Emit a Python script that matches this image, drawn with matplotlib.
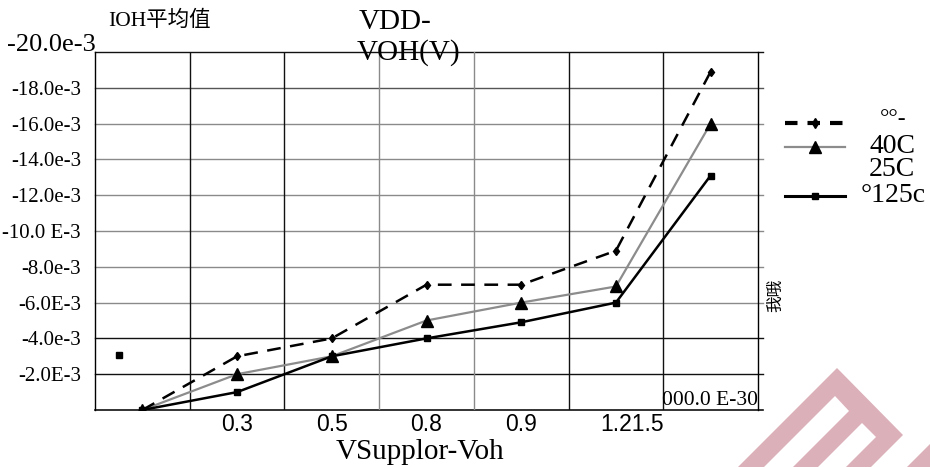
import matplotlib
matplotlib.use("Agg")
import matplotlib.pyplot as plt
from matplotlib.lines import Line2D
from matplotlib.patches import Polygon

plt.rcParams['font.family'] = ['Liberation Serif', 'Noto Sans CJK SC', 'DejaVu Sans']

# data (IOH in A)
categories = ["", "0.3", "0.5", "0.8", "0.9", "1.2", "1.5"]
ioh_neg40 = [0.0, -3.0e-3, -4.0e-3, -7.0e-3, -7.0e-3, -8.9e-3, -18.9e-3]
ioh_25 = [0.0, -2.0e-3, -3.0e-3, -5.0e-3, -6.0e-3, -6.9e-3, -16.0e-3]
ioh_125 = [0.0, -1.0e-3, -3.0e-3, -4.0e-3, -4.9e-3, -6.0e-3, -13.1e-3]
stray_x = [-0.25]
stray_y = [-3.1e-3]

ytick_vals = [-2e-3, -4e-3, -6e-3, -8e-3, -10e-3, -12e-3, -14e-3, -16e-3, -18e-3]
ytick_text = ["-2.0E-3", "-4.0e-3", "-6.0E-3", "-8.0e-3", "-10.0 E-3",
              "-12.0e-3", "-14.0e-3", "-16.0e-3", "-18.0e-3"]
xtick_text = ["0.3", "0.5", "0.8", "0.9", "1.21.5"]
hgrid_colors = ["#111111", "#111111", "#8a8a8a", "#8a8a8a", "#8a8a8a",
                "#8a8a8a", "#8a8a8a", "#8a8a8a", "#555555"]
vgrid_colors = ["#111111", "#111111", "#8a8a8a", "#8a8a8a", "#111111", "#111111"]

W, H = 930, 467


def fx(x):
    return x / W


def fy(y):
    return 1 - y / H


fig = plt.figure(figsize=(9.3, 4.67), dpi=100)
ax = fig.add_axes([fx(95), fy(410), (758 - 95) / W, (410 - 52) / H])

xs = list(range(len(categories)))
ax.set_xlim(-0.5, 6.5)
ax.set_ylim(0, -20e-3)

# grid
for v, c in zip(ytick_vals, hgrid_colors):
    ax.axhline(v, xmin=0, xmax=1.008, color=c, lw=1.0, clip_on=False, zorder=1)
ax.axhline(-20e-3, xmin=0, xmax=1.008, color="#111111", lw=1.0, clip_on=False, zorder=1)
ax.axhline(0, xmin=0, xmax=1.008, color="#111111", lw=1.2, clip_on=False, zorder=1)
for i, c in enumerate(vgrid_colors):
    ax.axvline(i + 0.5, color=c, lw=1.0, zorder=1)

for s in ["top", "bottom"]:
    ax.spines[s].set_visible(False)
ax.spines["left"].set_linewidth(1.0)
ax.spines["right"].set_linewidth(1.0)

ax.plot(xs, ioh_neg40, color="black", lw=1.8, dashes=(5.5, 3.8),
        marker="d", markersize=4.5, zorder=4)
ax.plot(xs, ioh_25, color="#8c8c8c", lw=1.6, marker="^", markersize=8,
        markerfacecolor="black", markeredgecolor="black", zorder=3)
ax.plot(xs, ioh_125, color="black", lw=1.8, marker="s", markersize=4, zorder=5)
ax.plot(stray_x, stray_y, linestyle="none", marker="s", markersize=5, color="black")

ax.tick_params(length=0)
ax.set_yticks(ytick_vals, ytick_text, fontsize=15)
ax.tick_params(axis="y", pad=10)
ax.set_xticks([1, 2, 3, 4, 5.17], xtick_text, fontfamily="Liberation Sans", fontsize=16.5)
ax.tick_params(axis="x", pad=2)

ax.text(6.5, 0, "000.0 E-30", ha="right", va="bottom", fontsize=15.5, clip_on=False)

# text around the plot
fig.text(fx(96), fy(45), "-20.0e-3", ha="right", va="center", fontsize=19)
fig.text(fx(108), fy(21), "IOH平均值", ha="left", va="center", fontsize=15.5)
fig.text(fx(359), fy(22), "VDD-", ha="left", va="center", fontsize=21)
fig.text(fx(357), fy(53), "VOH(V)", ha="left", va="center", fontsize=21)
fig.text(fx(420), fy(452), "VSupplor-Voh", ha="center", va="center", fontsize=21)
fig.text(fx(776), fy(295), "我哦", ha="center", va="center", fontsize=12,
         rotation=90, family=["Noto Sans CJK SC"])

# legend drawn by hand
leg = [((0, (3.0, 2.4)), "black", 3.0, "d", 5, 123),
       ("-", "#8c8c8c", 1.6, "^", 8, 147),
       ("-", "black", 2.2, "s", 5, 196)]
for ls, col, lw, mk, ms, y in leg:
    fig.add_artist(Line2D([fx(785), fx(845)], [fy(y), fy(y)], ls=ls, color=col, lw=lw))
    fig.add_artist(Line2D([fx(815)], [fy(y)], marker=mk, markersize=ms, color="black",
                          linestyle="none"))
fig.text(fx(893), fy(120), "°°-", ha="center", va="center", fontsize=17)
fig.text(fx(892), fy(147), "40C", ha="center", va="center", fontsize=20)
fig.text(fx(892), fy(170), "25C", ha="center", va="center", fontsize=20)
fig.text(fx(893), fy(195), "°125c", ha="center", va="center", fontsize=20)

# watermark
pink = "#dbb0b9"
mark = [(837, 368), (903, 435), (871, 467), (738, 467)]
gap1 = [(835, 396), (849, 411), (793, 467), (764, 467)]
gap2 = [(862, 423), (876, 437), (846, 467), (818, 467)]
mark2 = [(930, 444), (930, 467), (907, 467)]
for pts, col in [(mark, pink), (gap1, "white"), (gap2, "white"), (mark2, pink)]:
    fig.add_artist(Polygon([(fx(a), fy(b)) for a, b in pts], closed=True,
                           facecolor=col, edgecolor="none"))

fig.savefig("out.png", dpi=100)
